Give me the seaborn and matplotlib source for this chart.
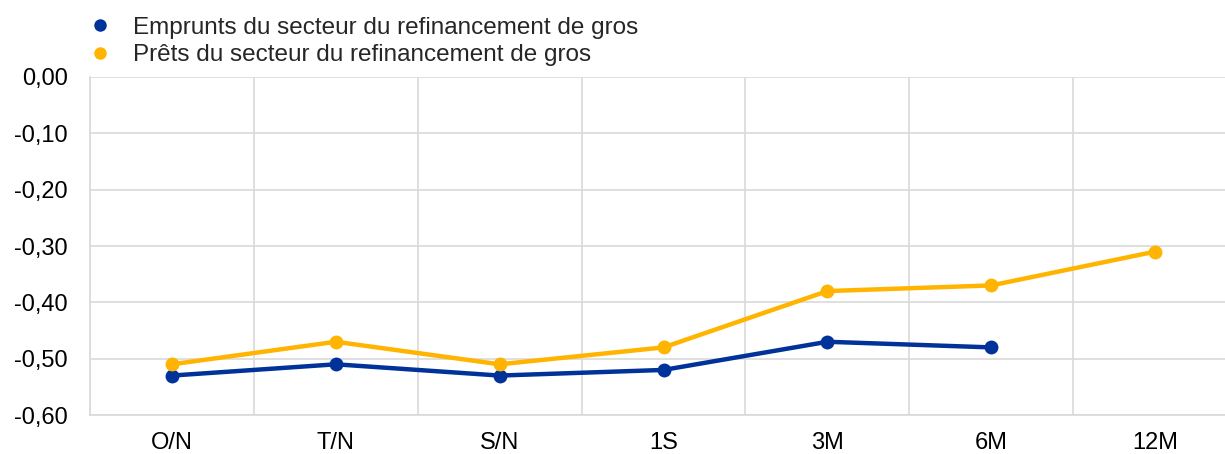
import matplotlib
matplotlib.use("Agg")
import matplotlib.pyplot as plt
import numpy as np
import pandas as pd
import seaborn as sns
from matplotlib.lines import Line2D
from matplotlib.ticker import FuncFormatter, MultipleLocator

# Maturities on the x axis
maturities = ["O/N", "T/N", "S/N", "1S", "3M", "6M", "12M"]

# Rates (%)
emprunts = [-0.53, -0.51, -0.53, -0.52, -0.47, -0.48, np.nan]
prets = [-0.51, -0.47, -0.51, -0.48, -0.38, -0.37, -0.31]

series_names = [
    "Emprunts du secteur du refinancement de gros",
    "Prêts du secteur du refinancement de gros",
]
colors = ["#003299", "#FFB400"]

df = pd.DataFrame(
    {
        "pos": list(range(len(maturities))) * 2,
        "value": emprunts + prets,
        "series": [series_names[0]] * len(maturities) + [series_names[1]] * len(maturities),
    }
).dropna()

sns.set_theme(style="white")
plt.rcParams["font.family"] = ["Liberation Sans", "DejaVu Sans"]

fig = plt.figure(figsize=(12.25, 4.54), dpi=100)
ax = fig.add_axes([90 / 1225, 39 / 454, 1147 / 1225, 338 / 454])

sns.lineplot(
    data=df,
    x="pos",
    y="value",
    hue="series",
    hue_order=series_names,
    palette=colors,
    marker="o",
    markersize=10,
    markeredgewidth=0,
    linewidth=3.2,
    legend=False,
    sort=False,
    ax=ax,
)

ax.set_xlim(-0.5, len(maturities) - 0.5)
ax.set_ylim(-0.60, 0.0)
ax.yaxis.set_major_locator(MultipleLocator(0.1))
ax.yaxis.set_major_formatter(FuncFormatter(lambda v, _: f"{v:.2f}".replace(".", ",").replace("-0,00", "0,00")))

ax.set_xticks(range(len(maturities)))
ax.set_xticklabels(maturities)
ax.set_xticks(np.arange(-0.5, len(maturities), 1.0), minor=True)

grid_color = "#d9d9d9"
ax.grid(True, axis="y", which="major", color=grid_color, linewidth=1.2)
ax.grid(True, axis="x", which="minor", color=grid_color, linewidth=1.2)
ax.grid(False, axis="x", which="major")
ax.set_axisbelow(True)

for side in ["top", "right"]:
    ax.spines[side].set_visible(False)
for side in ["left", "bottom"]:
    ax.spines[side].set_color(grid_color)
    ax.spines[side].set_linewidth(1.2)

ax.tick_params(axis="both", which="both", length=0, labelsize=17, colors="#000000")
ax.tick_params(axis="x", pad=12)
ax.tick_params(axis="y", pad=16)
ax.set_xlabel("")
ax.set_ylabel("")

handles = [
    Line2D([], [], linestyle="none", marker="o", markersize=9, color=c, markeredgewidth=0)
    for c in colors
]
fig.legend(
    handles,
    series_names,
    loc="upper left",
    bbox_to_anchor=(88 / 1225, 0.963),
    frameon=False,
    fontsize=17.5,
    handlelength=1.0,
    handletextpad=0.85,
    labelspacing=0.22,
    borderpad=0,
    borderaxespad=0,
)

fig.savefig("out.png", dpi=100)
